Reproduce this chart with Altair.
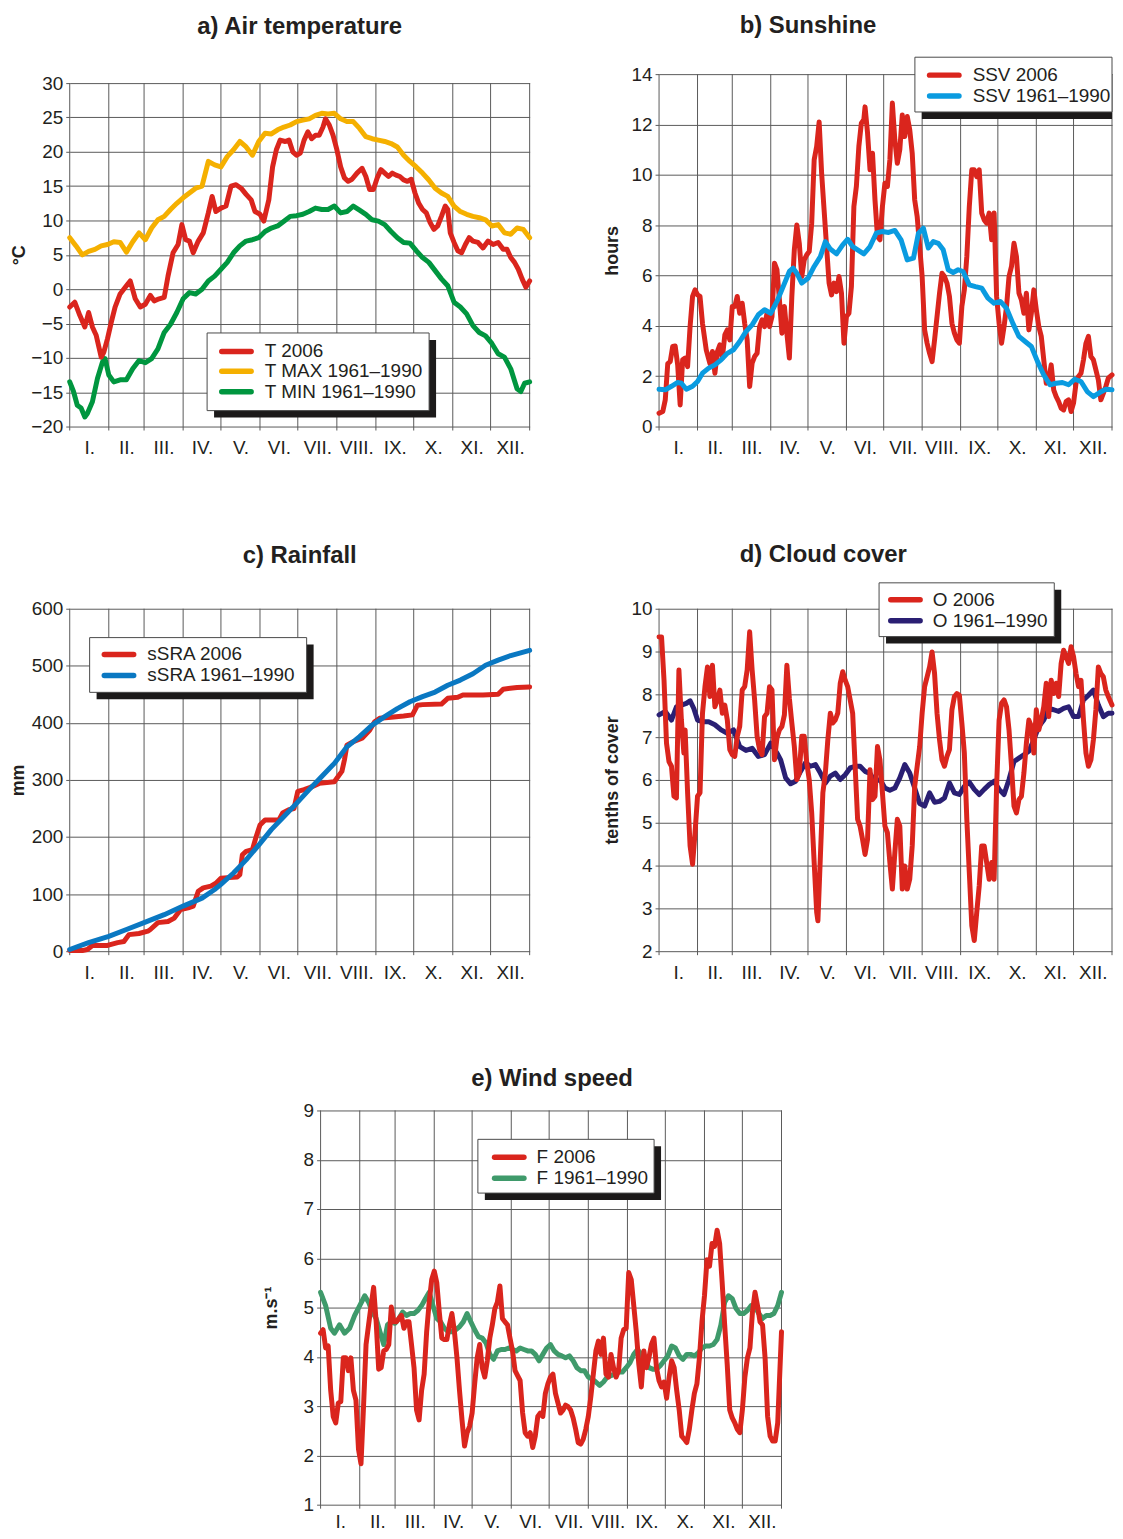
import json
import altair as alt
import pandas as pd

FONT = "Liberation Sans"
TXT = "#231f20"
GRID = "#5a5a5a"
RED = "#da251d"
ORANGE = "#f5b000"
GREEN_A = "#00963f"
BLUE_B = "#0a9be0"
BLUE_C = "#0a78c2"
NAVY = "#2a1f73"
GREEN_E = "#3f9a6b"

MONTH_EDGES = [0, 31, 59, 90, 120, 151, 181, 212, 243, 273, 304, 334, 365]
MONTH_LABELS = ["I.", "II.", "III.", "IV.", "V.", "VI.", "VII.", "VIII.", "IX.", "X.", "XI.", "XII."]
MONTH_MIDS = [(a + b) / 2 for a, b in zip(MONTH_EDGES[:-1], MONTH_EDGES[1:])]

# ---------------- a) Air temperature ----------------
tmax_days = list(range(0, 366, 5))
tmax_vals = [7.5, 6.3, 5.0, 5.5, 5.8, 6.3, 6.5, 6.9, 6.8, 5.4, 6.9, 8.2, 7.2, 8.9, 10.1, 10.6, 11.6, 12.5,
             13.3, 14.0, 14.7, 15.0, 18.6, 18.1, 17.8, 19.3, 20.3, 21.5, 20.7, 19.5, 21.5, 22.7, 22.6, 23.2,
             23.6, 23.9, 24.4, 24.6, 24.8, 25.3, 25.6, 25.5, 25.6, 24.8, 24.4, 24.4, 23.4, 22.2, 21.9, 21.7,
             21.5, 21.2, 20.7, 19.5, 18.6, 17.8, 16.9, 15.9, 14.7, 14.0, 13.5, 12.1, 11.3, 10.9, 10.6, 10.4,
             10.1, 9.2, 9.4, 8.2, 8.0, 8.9, 8.7, 7.5]
tmin_days = [0, 3, 6, 9, 12, 14, 18, 22, 26, 28, 31, 35, 40, 45, 50, 55, 60, 65, 70, 75, 80, 85, 90, 95, 100,
             105, 110, 115, 120, 125, 130, 135, 140, 145, 150, 155, 160, 165, 170, 175, 180, 185, 190, 195,
             200, 205, 210, 215, 220, 225, 230, 235, 240, 245, 250, 255, 260, 265, 270, 275, 280, 285, 290,
             295, 300, 305, 310, 315, 320, 325, 330, 335, 340, 345, 350, 355, 358, 361, 365]
tmin_vals = [-13.5, -14.9, -16.9, -17.3, -18.6, -18.1, -16.4, -13.0, -10.6, -10.1, -12.5, -13.5, -13.2, -13.2,
             -11.6, -10.4, -10.7, -10.1, -8.7, -6.3, -5.1, -3.4, -1.4, -0.5, -0.7, 0.0, 1.2, 1.9, 2.9, 3.9,
             5.3, 6.3, 7.0, 7.2, 7.5, 8.4, 8.9, 9.2, 9.9, 10.6, 10.7, 10.9, 11.3, 11.8, 11.6, 11.6, 12.1, 11.1,
             11.3, 12.1, 11.5, 10.9, 10.1, 9.9, 9.4, 8.4, 7.5, 6.8, 6.7, 5.6, 4.6, 3.9, 2.7, 1.5, 0.5, -1.9,
             -2.6, -3.6, -5.3, -6.3, -6.8, -7.9, -9.4, -9.9, -11.6, -14.5, -14.9, -13.7, -13.5]
t06_days = [0, 4, 8, 12, 15, 18, 21, 25, 27, 30, 33, 36, 40, 45, 48, 52, 56, 60, 64, 67, 71, 75, 78, 82, 86,
            89, 92, 95, 98, 102, 106, 110, 113, 116, 120, 124, 128, 132, 136, 140, 144, 147, 151, 154, 158,
            161, 164, 167, 171, 174, 177, 180, 183, 186, 189, 192, 195, 198, 201, 203, 206, 209, 212, 215,
            218, 221, 224, 228, 232, 235, 238, 241, 244, 247, 250, 253, 256, 259, 262, 265, 268, 271, 274,
            277, 280, 283, 286, 289, 292, 295, 298, 300, 302, 305, 308, 311, 314, 317, 320, 324, 328, 332,
            336, 340, 344, 347, 350, 353, 356, 359, 362, 365]
t06_vals = [-2.6, -1.9, -3.8, -5.5, -3.4, -5.5, -6.7, -9.9, -9.2, -7.2, -4.8, -2.6, -0.7, 0.5, 1.2, -1.4,
            -2.6, -2.2, -0.9, -1.7, -1.4, -1.2, 1.9, 5.3, 6.5, 9.4, 7.2, 7.0, 5.3, 7.0, 8.2, 11.1, 13.5, 11.3,
            11.8, 12.1, 15.0, 15.2, 14.7, 13.8, 13.0, 11.3, 10.9, 9.9, 13.0, 17.8, 20.3, 21.7, 21.5, 21.7,
            20.0, 19.5, 19.8, 21.7, 22.9, 21.9, 22.4, 22.4, 23.6, 24.8, 23.9, 22.4, 20.3, 17.8, 16.2, 15.7,
            16.0, 16.9, 17.6, 16.4, 14.5, 14.5, 16.2, 17.4, 16.9, 16.4, 16.9, 16.6, 16.4, 15.9, 15.7, 16.0,
            14.0, 12.5, 11.6, 11.1, 9.7, 8.7, 9.2, 10.6, 12.1, 11.6, 8.2, 6.8, 5.6, 5.3, 6.5, 7.5, 7.0, 6.8,
            6.0, 7.0, 6.5, 6.8, 5.8, 5.8, 4.6, 3.9, 2.9, 1.5, 0.3, 1.2]

# ---------------- b) Sunshine ----------------
ssvn_days = [0, 5, 10, 15, 18, 22, 27, 31, 35, 40, 45, 50, 55, 60, 65, 70, 75, 80, 85, 90, 95, 100, 105, 108,
             111, 115, 120, 125, 130, 134, 138, 143, 148, 152, 156, 160, 165, 170, 175, 180, 185, 190, 195,
             200, 205, 209, 213, 217, 221, 225, 229, 233, 237, 241, 245, 250, 255, 260, 265, 270, 275, 280,
             285, 290, 295, 300, 305, 310, 315, 320, 325, 330, 335, 340, 345, 350, 355, 360, 365]
ssvn_vals = [1.48, 1.46, 1.6, 1.75, 1.72, 1.48, 1.6, 1.79, 2.12, 2.32, 2.45, 2.65, 2.91, 3.05, 3.38, 3.77,
             4.04, 4.44, 4.64, 4.5, 4.97, 5.56, 6.16, 6.29, 6.09, 5.7, 5.89, 6.36, 6.75, 7.35, 7.05, 6.86,
             7.22, 7.44, 7.15, 7.02, 6.86, 7.15, 7.68, 7.75, 7.71, 7.79, 7.42, 6.62, 6.69, 7.68, 7.88, 7.09,
             7.35, 7.28, 7.02, 6.23, 6.12, 6.23, 6.16, 5.63, 5.56, 5.5, 5.1, 4.9, 4.97, 4.7, 4.11, 3.58, 3.38,
             3.18, 2.58, 2.05, 1.66, 1.72, 1.75, 1.66, 1.88, 1.79, 1.39, 1.19, 1.35, 1.48, 1.46]
ssv06_days = ([0, 3, 5, 7, 9, 11, 13, 15, 17, 19, 21, 23, 25, 27, 29, 31, 33, 35, 38, 41]
              + list(range(43, 166, 2)) + list(range(166, 363, 2)) + [365])
ssv06_vals = [0.53, 0.6, 1.06, 2.5, 2.58, 3.18, 3.2, 2.45, 0.86, 2.65, 2.72, 2.38, 3.97, 5.17, 5.43, 5.23,
              5.17, 4.1, 3.05, 2.5,
              2.98, 2.12, 2.98, 3.25, 2.72, 3.64, 3.84, 3.44, 4.77, 4.77,
              5.17, 4.5, 4.9, 4.1, 3.44, 1.59, 2.52, 2.78, 2.91, 3.97,
              4.24, 3.97, 4.5, 3.97, 4.37, 6.49, 6.23, 5.03, 3.71, 4.77,
              3.71, 2.72, 5.17, 7.02, 8.01, 7.28, 5.96, 6.62, 6.82, 6.95,
              8.08, 10.6, 11.13, 12.1, 10.07, 8.6, 7.15, 5.7, 5.23, 5.7,
              5.36, 5.96, 5.3, 3.31, 4.37, 4.5, 5.56, 8.74, 9.54, 11.13,
              12.05, 12.19,
              12.7, 11.66, 10.2, 10.86, 9.0, 7.55, 7.42, 8.74, 9.67, 9.54,
              10.6, 12.85, 11.39, 10.46, 11.0, 12.38, 11.52, 12.32, 11.79, 10.86,
              9.0, 8.34, 7.15, 5.96, 3.84, 3.31, 2.91, 2.58, 3.44, 4.37,
              5.3, 6.09, 5.96, 5.7, 5.17, 4.1, 3.71, 3.44, 3.31, 4.77,
              5.43, 6.75, 8.74, 10.2, 10.2, 9.93, 10.2, 8.48, 8.21, 8.08,
              8.48, 7.42, 8.48, 5.17, 4.1, 3.31, 3.97, 4.77, 5.96, 6.36,
              7.28, 6.75, 5.3, 5.03, 4.5, 5.3, 3.84, 4.5, 5.43, 4.64,
              3.97, 3.58, 2.65, 1.72, 1.85, 2.45, 1.46, 1.19, 0.99, 0.73,
              0.66, 0.99, 1.06, 0.6, 0.93, 1.72, 1.99, 2.12, 2.65, 3.31,
              3.58, 2.78, 2.65, 2.25, 1.85, 1.06, 1.32, 1.59, 1.92,
              2.05]

# ---------------- c) Rainfall ----------------
sran_days = [0, 15, 31, 45, 59, 75, 90, 105, 115, 120, 130, 140, 150, 160, 170, 180, 190, 200, 210, 220, 230,
             240, 250, 260, 270, 280, 290, 300, 310, 320, 330, 340, 350, 365]
sran_vals = [3, 15, 26, 38, 50, 64, 79, 93, 108, 117, 137, 160, 186, 213, 236, 259, 283, 306, 329, 358, 376,
             396, 411, 425, 437, 446, 454, 466, 475, 486, 501, 510, 518, 527]
sra06_days = [0, 10, 14, 18, 30, 38, 43, 47, 55, 62, 64, 70, 78, 83, 88, 94, 98, 102, 106, 112, 116, 120, 133,
              135, 137, 140, 145, 148, 151, 155, 166, 169, 174, 178, 181, 186, 191, 198, 210, 213, 216, 218,
              220, 225, 232, 238, 242, 246, 255, 265, 272, 276, 280, 295, 300, 308, 312, 328, 340, 344, 355,
              365]
sra06_vals = [1, 1, 3, 10, 10, 15, 17, 29, 31, 35, 38, 50, 52, 58, 73, 76, 79, 105, 111, 114, 119, 128, 130,
              134, 169, 175, 178, 201, 221, 230, 230, 242, 248, 250, 280, 283, 287, 294, 297, 306, 315, 335,
              361, 367, 373, 387, 402, 408, 410, 412, 414, 431, 432, 433, 443, 445, 449, 449, 450, 459, 462,
              463]

# ---------------- d) Cloud cover ----------------
on_days = ([0, 5, 10, 14, 18, 22, 25, 28, 31, 35, 40, 45, 50, 55, 60, 65, 70, 75, 80, 85, 90, 95, 98]
           + list(range(102, 363, 4)) + [365])
on_vals = [7.52, 7.6, 7.4, 7.71, 7.75, 7.79, 7.85, 7.67, 7.4, 7.36, 7.36, 7.29, 7.17, 7.09, 7.17, 6.78, 6.69,
           6.74, 6.55, 6.59, 6.86, 6.63, 6.47,
           6.05, 5.91, 5.97, 6.2, 6.4, 6.32, 6.36, 6.16, 5.93, 6.09,
           6.16, 6.01, 6.12, 6.28, 6.32, 6.32, 6.2, 6.15, 5.97, 6.01,
           5.81, 5.76, 5.81, 6.05, 6.36, 6.16, 5.81, 5.45, 5.39, 5.7,
           5.48, 5.5, 5.58, 5.93, 5.7, 5.66, 5.85, 5.95, 5.78, 5.66,
           5.78, 5.89, 5.97, 5.78, 5.66, 6.01, 6.43, 6.51, 6.59, 6.67,
           6.94, 7.25, 7.4, 7.67, 7.64, 7.6, 7.67, 7.71, 7.48, 7.48,
           7.87, 7.98, 8.1, 7.75, 7.48, 7.56,
           7.56]
o06_days = (list(range(0, 21, 2)) + [21] + list(range(23, 128, 2)) + [128]
            + list(range(130, 363, 2)) + [365])
o06_vals = [9.34, 9.34, 8.33, 6.86, 6.43, 6.32, 5.62, 5.58, 8.57, 7.4, 6.63,
            7.17,
            5.7, 4.46, 4.03, 4.77, 5.62, 5.7, 7.56, 8.18, 8.64, 7.95,
            8.68, 7.71, 7.87, 8.1, 7.56, 7.75, 7.4, 6.71, 6.59, 6.55,
            7.02, 7.25, 8.1, 8.18, 8.57, 9.46, 8.57, 7.87, 7.02, 6.71,
            6.59, 7.48, 7.56, 8.18, 8.1, 6.47, 6.98, 7.17, 7.25, 7.52,
            8.68, 7.91, 7.33, 6.78, 6.01, 6.16, 7.02, 7.02, 6.4, 6.01,
            5.23, 4.07, 2.91,
            2.71,
            4.22, 5.7, 6.16, 6.94, 7.56, 7.33, 7.4, 7.56, 8.26, 8.53,
            8.33, 8.18, 7.87, 7.56, 6.32, 5.08, 4.92, 4.61, 4.26, 4.61,
            6.24, 5.54, 5.62, 6.78, 6.47, 5.7, 4.92, 4.77, 4.07, 3.45,
            4.3, 5.08, 4.92, 3.45, 3.99, 3.45, 3.68, 4.46, 5.85, 6.32,
            6.78, 7.56, 8.18, 8.41, 8.64, 8.99, 8.49, 7.56, 6.94, 6.47,
            6.32, 6.55, 6.71, 7.64, 7.95, 8.02, 7.98, 7.33, 6.63, 5.08,
            3.84, 2.6, 2.25, 2.91, 3.53, 4.46, 4.46, 4.07, 3.68, 4.07,
            3.68, 5.85, 7.4, 7.79, 7.87, 7.71, 7.17, 6.32, 5.39, 5.23,
            5.54, 5.62, 6.16, 6.86, 7.4, 7.25, 6.63, 7.64, 7.17, 7.4,
            7.71, 8.26, 7.48, 8.33, 8.02, 8.26, 7.95, 8.72, 9.03, 8.88,
            8.72, 9.11, 8.88, 8.49, 8.18, 8.33, 7.4, 6.63, 6.32, 6.47,
            6.94, 7.64, 8.64, 8.49, 8.41, 8.1, 7.95,
            7.75]

# ---------------- e) Wind speed ----------------
fn_days = [0, 4, 8, 11, 15, 19, 23, 27, 31] + list(range(35, 363, 3)) + [365]
fn_vals = [5.31, 5.04, 4.58, 4.48, 4.65, 4.48, 4.58, 4.84, 5.04,
           5.24, 5.11, 4.91, 4.78, 4.51, 4.25, 4.65, 4.71, 4.68, 4.78,
           4.91, 4.84, 4.88, 4.88, 4.94, 5.04, 5.18, 5.31, 5.04, 4.78,
           4.71, 4.58, 4.51, 4.51, 4.55, 4.61, 4.71, 4.88, 4.71, 4.55,
           4.41, 4.38, 4.28, 4.05, 3.95, 4.12, 4.15, 4.15, 4.18, 4.15,
           4.12, 4.18, 4.15, 4.12, 4.12, 4.05, 3.92, 4.05, 4.18, 4.25,
           4.12, 4.05, 4.02, 3.98, 4.02, 3.92, 3.78, 3.72, 3.72, 3.59,
           3.55, 3.49, 3.42, 3.49, 3.59, 3.62, 3.65, 3.69, 3.69, 3.78,
           3.88, 4.05, 4.15, 4.05, 3.92, 3.78, 3.75, 3.75, 3.82, 3.92,
           4.02, 4.22, 4.18, 4.02, 3.95, 4.05, 4.05, 4.02, 4.08, 4.18,
           4.22, 4.22, 4.25, 4.35, 4.65, 5.11, 5.24, 5.18, 4.98, 4.88,
           4.88, 4.94, 5.04, 5.01, 4.88, 4.78, 4.84, 4.84, 4.88, 5.04,
           5.31]
f06_days = list(range(0, 363, 2)) + [365]
f06_vals = [4.48, 4.55, 4.18, 4.22, 3.32, 2.79, 2.66, 3.06, 3.09, 3.98,
            3.98, 3.72, 3.98, 3.32, 3.12, 2.13, 1.83, 2.99, 4.25, 4.65,
            5.04, 5.41, 4.71, 3.75, 3.78, 4.12, 4.15, 4.25, 5.01, 4.71,
            4.71, 4.78, 4.84, 4.58, 4.71, 4.71, 4.25, 3.78, 2.92, 2.72,
            3.32, 3.65, 4.51, 5.11, 5.57, 5.74, 5.51, 4.91, 4.38, 4.35,
            4.35, 4.65, 4.88, 4.51, 3.98, 3.32, 2.72, 2.19, 2.46, 2.59,
            2.86, 3.45, 3.98, 4.25, 3.78, 3.59, 3.92, 4.38, 4.65, 4.98,
            5.11, 5.44, 4.78, 4.71, 4.65, 4.38, 4.12, 3.72, 3.62, 3.52,
            2.86, 2.46, 2.39, 2.46, 2.16, 2.39, 2.79, 2.86, 2.79, 3.26,
            3.45, 3.59, 3.65, 3.26, 3.06, 2.86, 2.92, 3.02, 2.99, 2.92,
            2.76, 2.53, 2.26, 2.23, 2.33, 2.53, 2.79, 3.19, 3.65, 4.12,
            4.32, 4.05, 4.38, 3.65, 3.59, 4.05, 3.78, 3.59, 3.72, 4.38,
            4.55, 4.58, 5.71, 5.57, 5.04, 4.51, 3.85, 3.39, 4.12, 3.78,
            3.98, 4.25, 4.38, 3.78, 3.52, 3.39, 3.49, 3.16, 3.59, 3.92,
            3.78, 3.32, 2.92, 2.39, 2.33, 2.26, 2.53, 2.92, 3.26, 3.45,
            3.98, 4.71, 5.24, 5.97, 5.84, 6.3, 6.24, 6.57, 6.3, 5.51,
            4.65, 3.85, 2.92, 2.76, 2.66, 2.53, 2.46, 2.92, 3.59, 3.98,
            4.18, 4.91, 5.31, 5.04, 4.71, 4.65, 3.98, 2.79, 2.39, 2.29,
            2.29, 2.66,
            4.51]

dummy = pd.DataFrame({"k": [0]})


def make_panel(series, ydom, ystep, width, height, pad_top, ytitle, ytitle_x, title, anchor, title_dx,
               title_offset, legend, label_pad=12):
    core = height - pad_top
    ymax_ext = ydom[1] + pad_top * (ydom[1] - ydom[0]) / core
    xscale = alt.Scale(domain=[0, 365], nice=False, zero=False)
    xaxis = alt.Axis(values=MONTH_MIDS,
                     labelExpr=json.dumps(MONTH_LABELS) + "[floor(datum.value / 30.42)]",
                     grid=False, ticks=False, tickSize=0, domain=False, labelPadding=label_pad,
                     labelFont=FONT, labelFontSize=19, labelColor=TXT, labelOverlap=False,
                     labelFlush=False, title=None)
    yscale = alt.Scale(domain=[ydom[0], ymax_ext], nice=False, zero=False)
    yaxis = alt.Axis(values=list(range(ydom[0], ydom[1] + 1, ystep)), grid=True, gridColor=GRID,
                     gridWidth=1, domain=False, ticks=True, tickSize=4, tickColor=GRID, tickWidth=1,
                     labelFont=FONT, labelFontSize=19, labelColor=TXT, labelPadding=3,
                     title=ytitle, titleFont=FONT, titleFontSize=18, titleFontWeight="bold",
                     titleColor=TXT, titleX=ytitle_x, titleY=pad_top + core / 2, titleAngle=270,
                     titleBaseline="alphabetic", titleAlign="center")
    layers = [
        # white guard that fixes the left extent of every panel
        alt.Chart(dummy).mark_rule(color="white", strokeWidth=1).encode(
            x=alt.value(-61.5), y=alt.value(pad_top), y2=alt.value(pad_top + 6)),
        alt.Chart(pd.DataFrame({"day": MONTH_EDGES})).mark_rule(color=GRID, strokeWidth=1).encode(
            x=alt.X("day:Q", scale=xscale, axis=xaxis), y=alt.value(pad_top), y2=alt.value(height + 4)),
    ]
    for days, vals, color in series:
        df = pd.DataFrame({"day": days, "value": vals})
        layers.append(alt.Chart(df).mark_line(color=color, strokeWidth=5, strokeJoin="round",
                                              strokeCap="round").encode(
            x=alt.X("day:Q", scale=xscale, axis=xaxis),
            y=alt.Y("value:Q", scale=yscale, axis=yaxis)))
    (bx1, by1, bx2, by2), rows_y, (sx1, sx2), tx, items, shadow_max = legend
    by1 += pad_top
    by2 += pad_top
    layers.append(alt.Chart(dummy).mark_rect(color="#1c1a1a").encode(
        x=alt.value(bx1 + 7), x2=alt.value(min(bx2 + 7, shadow_max)),
        y=alt.value(by1 + 7), y2=alt.value(by2 + 7)))
    layers.append(alt.Chart(dummy).mark_rect(fill="white", stroke="#4a4a4a", strokeWidth=1).encode(
        x=alt.value(bx1), x2=alt.value(bx2), y=alt.value(by1), y2=alt.value(by2)))
    for ry, (label, color) in zip(rows_y, items):
        ry += pad_top
        layers.append(alt.Chart(dummy).mark_rule(color=color, strokeWidth=5.5, strokeCap="round").encode(
            x=alt.value(sx1 + 2.75), x2=alt.value(sx2 - 2.75), y=alt.value(ry)))
        layers.append(alt.Chart(dummy).mark_text(text=label, align="left", baseline="middle", font=FONT,
                                                 fontSize=19, color=TXT).encode(
            x=alt.value(tx), y=alt.value(ry)))
    return alt.layer(*layers).properties(
        width=width, height=height,
        title=alt.TitleParams(text=title, font=FONT, fontSize=24, fontWeight="bold", color=TXT,
                              anchor=anchor, frame="group", offset=title_offset, dx=title_dx))


pa = make_panel([(tmax_days, tmax_vals, ORANGE), (tmin_days, tmin_vals, GREEN_A), (t06_days, t06_vals, RED)],
                [-20, 30], 5, 462, 354, 9, "°C", -45, "a) Air temperature", "middle", 0, 35,
                ((138, 251, 361, 329), [269.5, 289.5, 310], (150, 185), 196,
                 [("T 2006", RED), ("T MAX 1961–1990", ORANGE), ("T MIN 1961–1990", GREEN_A)], 9999))
pb = make_panel([(ssv06_days, ssv06_vals, RED), (ssvn_days, ssvn_vals, BLUE_B)],
                [0, 14], 2, 455, 354, 0, "hours", -42, "b) Sunshine", "start", 81, 19,
                ((257, -17, 455, 38), [1, 22], (269, 304), 315,
                 [("SSV 2006", RED), ("SSV 1961–1990", BLUE_B)], 455))
pc = make_panel([(sra06_days, sra06_vals, RED), (sran_days, sran_vals, BLUE_C)],
                [0, 600], 100, 462, 344, 0, "mm", -46, "c) Rainfall", "middle", 0, 32,
                ((20, 29, 238, 84), [46, 67], (32, 67), 78,
                 [("sSRA 2006", RED), ("sSRA 1961–1990", BLUE_C)], 9999))
pd_ = make_panel([(on_days, on_vals, NAVY), (o06_days, o06_vals, RED)],
                 [2, 10], 1, 455, 344, 0, "tenths of cover", -42, "d) Cloud cover", "start", 81, 15,
                 ((221, -26, 397, 28), [-9, 12], (230, 265), 275,
                  [("O 2006", RED), ("O 1961–1990", NAVY)], 9999))
pe = make_panel([(fn_days, fn_vals, GREEN_E), (f06_days, f06_vals, RED)],
                [1, 9], 1, 463, 396, 0, "m.s⁻¹", -44, "e) Wind speed", "middle", 1, 11,
                ((158, 29, 335, 83), [47, 68], (172, 207), 217,
                 [("F 2006", RED), ("F 1961–1990", GREEN_E)], 9999), label_pad=8)

spacer = alt.Chart(dummy).mark_rule(color="white", strokeWidth=1).encode(
    x=alt.value(0), x2=alt.value(1), y=alt.value(0)).properties(width=190, height=10)

row1 = alt.hconcat(pa, pb, spacing=65)
row2 = alt.hconcat(pc, pd_, spacing=65)
row3 = alt.hconcat(spacer, pe, spacing=0)

top = alt.vconcat(row1, row2, spacing=86)
chart = alt.vconcat(top, row3, spacing=85).properties(
    padding={"top": 2, "left": 0, "right": 0, "bottom": -4},
    background="white",
).configure_view(stroke=None, strokeWidth=0)

chart.save("out.html", embed_options={"renderer": "svg", "actions": False})
